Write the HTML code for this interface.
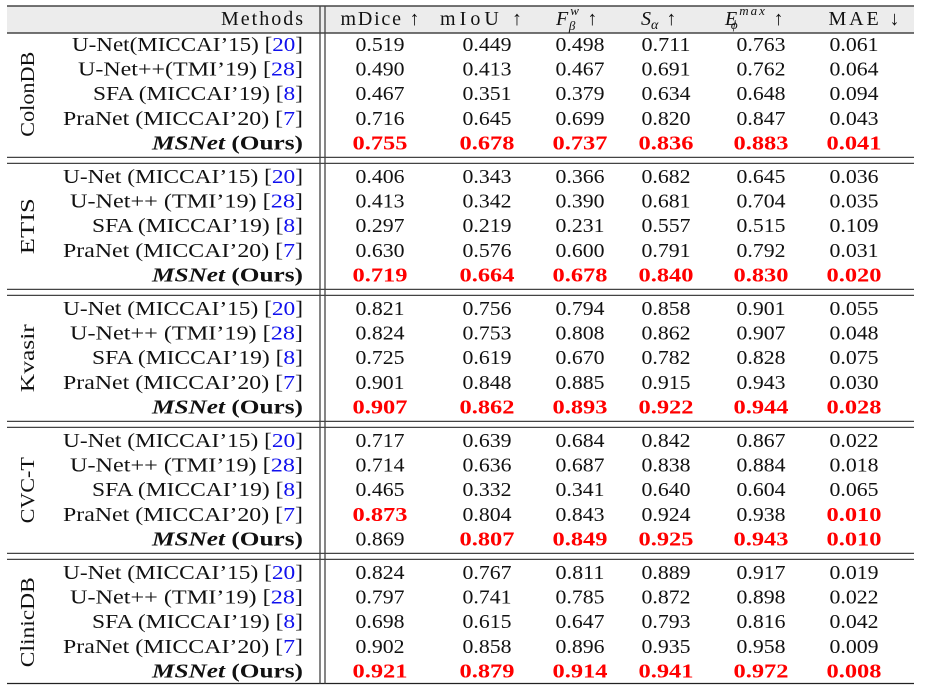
<!DOCTYPE html>
<html><head><meta charset="utf-8"><style>
html,body{margin:0;padding:0;background:#fff;}
svg{display:block;font-family:"Liberation Serif","DejaVu Serif",serif;}
</style></head><body>
<svg id="t" width="927" height="692" viewBox="0 0 927 692"></svg>
<script>
const groups = ["ColonDB","ETIS","Kvasir","CVC-T","ClinicDB"];
const groupLen = [85,56,68,66,90];
const methodsColon = ["U-Net(MICCAI'15) ","U-Net++(TMI'19) ","SFA (MICCAI'19) ","PraNet (MICCAI'20) "];
const methodsOther = ["U-Net (MICCAI'15) ","U-Net++ (TMI'19) ","SFA (MICCAI'19) ","PraNet (MICCAI'20) "];
const cites = ["20","28","8","7"];
const metrics = ["mDice","mIoU","Fw","Sa","Emax","MAE"];
const valColonDB = [[0.519,0.449,0.498,0.711,0.763,0.061],[0.490,0.413,0.467,0.691,0.762,0.064],[0.467,0.351,0.379,0.634,0.648,0.094],[0.716,0.645,0.699,0.820,0.847,0.043],[0.755,0.678,0.737,0.836,0.883,0.041]];
const valETIS = [[0.406,0.343,0.366,0.682,0.645,0.036],[0.413,0.342,0.390,0.681,0.704,0.035],[0.297,0.219,0.231,0.557,0.515,0.109],[0.630,0.576,0.600,0.791,0.792,0.031],[0.719,0.664,0.678,0.840,0.830,0.020]];
const valKvasir = [[0.821,0.756,0.794,0.858,0.901,0.055],[0.824,0.753,0.808,0.862,0.907,0.048],[0.725,0.619,0.670,0.782,0.828,0.075],[0.901,0.848,0.885,0.915,0.943,0.030],[0.907,0.862,0.893,0.922,0.944,0.028]];
const valCVCT = [[0.717,0.639,0.684,0.842,0.867,0.022],[0.714,0.636,0.687,0.838,0.884,0.018],[0.465,0.332,0.341,0.640,0.604,0.065],[0.873,0.804,0.843,0.924,0.938,0.010],[0.869,0.807,0.849,0.925,0.943,0.010]];
const valClinicDB = [[0.824,0.767,0.811,0.889,0.917,0.019],[0.797,0.741,0.785,0.872,0.898,0.022],[0.698,0.615,0.647,0.793,0.816,0.042],[0.902,0.858,0.896,0.935,0.958,0.009],[0.921,0.879,0.914,0.941,0.972,0.008]];
const allVals = [valColonDB,valETIS,valKvasir,valCVCT,valClinicDB];

const NS="http://www.w3.org/2000/svg";
const svg=document.getElementById('t');
function mk(tag,attrs,parent){const e=document.createElementNS(NS,tag);for(const k in attrs)e.setAttribute(k,attrs[k]);(parent||svg).appendChild(e);return e;}
const colX=[380,487,580,666,761,854];
const rowY=(g,r)=>45+g*132+r*24.6;
const FS=20;

const hb=mk('rect',{x:7,y:6,width:907,height:27,fill:'#ececec'});


function line(x1,y1,x2,y2,name,w,c){const l=mk('line',{x1,y1,x2,y2,stroke:c||'#222','stroke-width':w||1.3});return l;}
line(7,6,914,6,'top-rule');
line(7,33,914,33,'header-rule');
line(7,683.5,914,683.5,'bottom-rule');
line(320,6,320,683.5,'vertical-rule-left',1.3,'#444');
line(325,6,325,683.5,'vertical-rule-right',1.3,'#444');
for(let g=0;g<4;g++){
  const y=rowY(g,4)+14;
  line(7,y,914,y,'group-separator-top',1.3,'#444');
  line(7,y+6,914,y+6,'group-separator-bottom',1.3,'#444');
}
function txt(x,y,s,o){const e=mk('text',Object.assign({x,y,'font-size':FS,'text-anchor':'middle','dominant-baseline':'central',fill:'#111'},o||{}));e.textContent=s;return e;}
let h=txt(303,19,'Methods',{'text-anchor':'end',textLength:82,lengthAdjust:'spacing'});

const hdr=[['mDice ↑',380,79],['mIoU ↑',481,82],null,null,null,['MAE ↓',864,71]];
hdr.forEach((d,i)=>{if(!d)return;const e=txt(d[1],19,d[0],{textLength:d[2],lengthAdjust:'spacing'});});
let f=mk('text',{x:556,y:25,'font-size':FS,fill:'#111','font-style':'italic'});
f.innerHTML='F<tspan dx="2" dy="-10" font-size="13">w</tspan><tspan dx="-10" dy="15" font-size="13">β</tspan><tspan dy="-5" dx="12" font-style="normal">↑</tspan>';
let s=mk('text',{x:641,y:25,'font-size':FS,fill:'#111','font-style':'italic'});
s.innerHTML='S<tspan dy="4" font-size="14">α</tspan><tspan dy="-4" dx="8" font-style="normal">↑</tspan>';
let e=mk('text',{x:725,y:25,'font-size':FS,fill:'#111','font-style':'italic'});
e.innerHTML='E<tspan dx="2" dy="-10" font-size="13" letter-spacing="2">max</tspan><tspan dx="-36" dy="14" font-size="13">ϕ</tspan><tspan dy="-4" dx="36" font-style="normal">↑</tspan>';

const widthColon=[231,225,210,240];
const widthOther=[240,233,211,240];
groups.forEach((gname,g)=>{
  const cy=(rowY(g,0)+rowY(g,4))/2;
  const gl=mk('text',{x:0,y:0,'font-size':FS,'text-anchor':'middle','dominant-baseline':'central',fill:'#111',textLength:groupLen[g],lengthAdjust:'spacingAndGlyphs',transform:`translate(28,${cy}) rotate(-90)`});
  gl.textContent=gname;
  
  
  const vals=allVals[g];
  for(let r=0;r<5;r++){
    const y=rowY(g,r);
    let m;
    if(r<4){
      const name=(g===0?methodsColon:methodsOther)[r];
      const w=(g===0?widthColon:widthOther)[r];
      m=mk('text',{x:303,y,'font-size':FS,'text-anchor':'end','dominant-baseline':'central',fill:'#111',textLength:w,lengthAdjust:'spacingAndGlyphs'});
      m.innerHTML=name.replace(/'/g,'’')+'[<tspan fill="#1010ee">'+cites[r]+'</tspan>]';
    } else {
      m=mk('text',{x:303,y,'font-size':FS,'text-anchor':'end','dominant-baseline':'central',fill:'#111','font-weight':'bold',textLength:151,lengthAdjust:'spacingAndGlyphs'});
      m.innerHTML='<tspan font-style="italic">MSNet</tspan> (Ours)';
    }
    
    
    for(let c=0;c<6;c++){
      const v=vals[r][c];
      let best=true;
      for(let k=0;k<5;k++){const o=vals[k][c];if(c===5?o<v:o>v)best=false;}
      const t=txt(colX[c],y,v.toFixed(3),best?{fill:'#ff0000','font-weight':'bold',textLength:55,lengthAdjust:'spacingAndGlyphs'}:{textLength:49,lengthAdjust:'spacingAndGlyphs'});
      
      
    }
  }
});
</script>
</body></html>
